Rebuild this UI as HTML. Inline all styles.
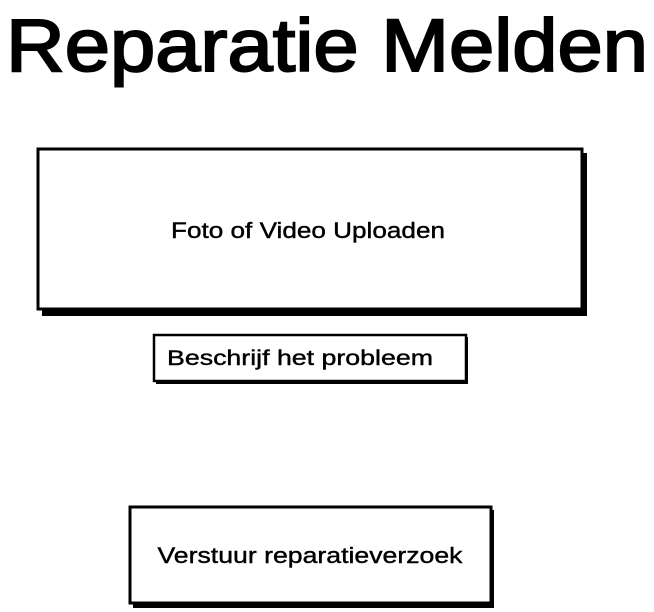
<!DOCTYPE html>
<html><head><meta charset="utf-8"><style>
html,body{margin:0;padding:0;background:#fff;width:654px;height:612px;overflow:hidden}
svg text{font-family:"Liberation Sans",sans-serif;fill:#000}
</style></head><body>
<svg width="654" height="612" viewBox="0 0 654 612" xmlns="http://www.w3.org/2000/svg">
<text x="6" y="71" font-size="74" stroke="#000" stroke-width="2" textLength="642" lengthAdjust="spacingAndGlyphs">Reparatie Melden</text>
<rect x="42" y="153" width="545" height="163" fill="#000"/>
<rect x="38" y="149" width="544" height="160" fill="#fff" stroke="#000" stroke-width="3"/>
<text x="308" y="238" font-size="22" stroke="#000" stroke-width="0.4" text-anchor="middle" textLength="274" lengthAdjust="spacingAndGlyphs">Foto of Video Uploaden</text>
<rect x="156" y="337" width="312" height="47" fill="#000"/>
<rect x="154" y="335" width="312" height="46" fill="#fff" stroke="#000" stroke-width="2.5"/>
<text x="167" y="365" font-size="21" stroke="#000" stroke-width="0.4" textLength="266" lengthAdjust="spacingAndGlyphs">Beschrijf het probleem</text>
<rect x="133" y="510" width="361" height="98" fill="#000"/>
<rect x="130" y="507" width="361" height="96" fill="#fff" stroke="#000" stroke-width="3"/>
<text x="310" y="563" font-size="22" stroke="#000" stroke-width="0.4" text-anchor="middle" textLength="305" lengthAdjust="spacingAndGlyphs">Verstuur reparatieverzoek</text>
</svg>
</body></html>
